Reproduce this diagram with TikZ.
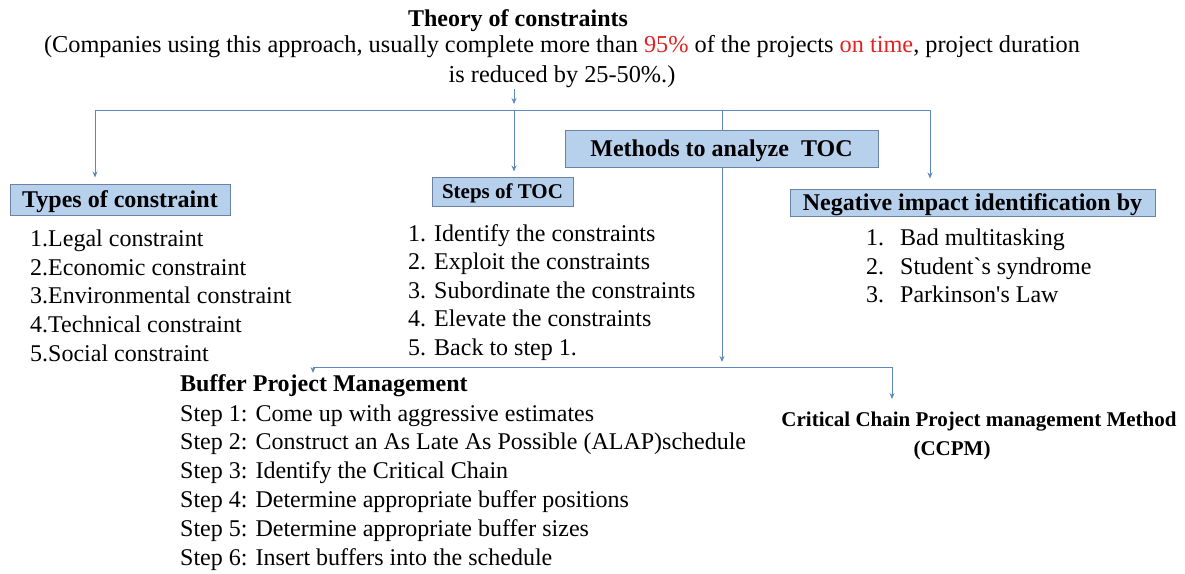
\documentclass[tikz,border=0pt]{standalone}
\usepackage{fontspec}
\setmainfont{Liberation Serif}
\usetikzlibrary{arrows.meta}
\definecolor{boxfill}{RGB}{183,208,236}
\definecolor{boxline}{RGB}{105,130,165}
\definecolor{linkc}{RGB}{95,135,190}
\definecolor{redt}{RGB}{225,35,35}
\begin{document}
\begin{tikzpicture}[x=1pt,y=-1pt,
  txt/.style={inner sep=0pt, anchor=west, font=\fontsize{24}{28}\selectfont, text height=16pt, text depth=0pt},
  ctxt/.style={txt, anchor=center},
  btxt/.style={txt, font=\fontsize{24}{28}\selectfont\bfseries},
  hbox/.style={draw=boxline, fill=boxfill, line width=1pt, inner sep=0pt, text height=16pt, text depth=0pt,
    font=\fontsize{24}{28}\selectfont\bfseries},
  link/.style={draw=linkc, line width=1pt},
  arr/.style={link, -{Stealth[length=6pt,width=5pt]}}]
\useasboundingbox (0,0) rectangle (1185,573);
% title
\node[ctxt, font=\fontsize{24}{28}\selectfont\bfseries] (title) at (518,18) {Theory of constraints};
\node[ctxt, font=\fontsize{24.3}{28}\selectfont] (l2) at (562,44) {(Companies using this approach, usually complete more than \textcolor{redt}{95\%} of the projects \textcolor{redt}{on time}, project duration};
\node[ctxt, font=\fontsize{24.3}{28}\selectfont] (l3) at (562,74) {is reduced by 25-50\%.)};
% boxes
\node[hbox, minimum width=220pt, minimum height=31pt] (types) at (120,199.5) {Types of constraint};
\node[hbox, minimum width=141pt, minimum height=29pt, font=\fontsize{21}{25}\selectfont\bfseries, text height=14pt] (steps) at (502.5,191.5) {Steps of TOC};
\node[hbox, minimum width=313pt, minimum height=37pt] (methods) at (721.5,148.5) {Methods to analyze\ \ TOC};
\node[hbox, minimum width=365pt, minimum height=27pt] (neg) at (972.5,202.5) {Negative impact identification by};
% connectors
\coordinate (t0) at (514,89);
\coordinate (t1) at (514,104);
\coordinate (hL) at (95,110);
\coordinate (hS) at (514,110);
\coordinate (hM) at (722,110);
\coordinate (hR) at (930,110);
\coordinate (mE) at (722,362);
\coordinate (bL) at (313,367);
\coordinate (bM) at (722,367);
\coordinate (bR) at (892,367);
\coordinate (bLe) at (313,373);
\coordinate (bRe) at (892,399);
\draw[arr] (t0) -- (t1);
\draw[link] (hL) -- (hR);
\draw[arr, shorten >=6pt] (hL) -- (hL |- types.north);
\draw[arr, shorten >=5pt] (hS) -- (hS |- steps.north);
\draw[arr, shorten >=10pt] (hR) -- (hR |- neg.north);
\draw[link] (hM) -- (hM |- methods.north);
\draw[arr] (hM |- methods.south) -- (mE);
\draw[link] (bL) -- (bR);
\draw[arr] (bL) -- (bLe);
\draw[arr] (bR) -- (bRe);
% types list
\node[txt] (ty1) at (30,238) {1.Legal constraint};
\node[txt] (ty2) at (30,267) {2.Economic constraint};
\node[txt] (ty3) at (30,295) {3.Environmental constraint};
\node[txt] (ty4) at (30,324) {4.Technical constraint};
\node[txt] (ty5) at (30,353) {5.Social constraint};
% steps list
\node[txt] (st1) at (408,233) {1. Identify the constraints};
\node[txt] (st2) at (408,261) {2. Exploit the constraints};
\node[txt] (st3) at (408,290) {3. Subordinate the constraints};
\node[txt] (st4) at (408,318) {4. Elevate the constraints};
\node[txt] (st5) at (408,347) {5. Back to step 1.};
% negative list
\node[txt] (ng1n) at (866,237) {1.};
\node[txt] (ng1) at (900,237) {Bad multitasking};
\node[txt] (ng2n) at (866,266) {2.};
\node[txt] (ng2) at (900,266) {Student\textasciigrave s syndrome};
\node[txt] (ng3n) at (866,294) {3.};
\node[txt] (ng3) at (900,294) {Parkinson\textquotesingle s Law};
% buffer
\node[btxt] (bpm) at (180,383) {Buffer Project Management};
\node[txt] (bp1) at (180,413) {Step 1: Come up with aggressive estimates};
\node[txt] (bp2) at (180,441) {Step 2: Construct an As Late As Possible (ALAP)schedule};
\node[txt] (bp3) at (180,470) {Step 3: Identify the Critical Chain};
\node[txt] (bp4) at (180,499) {Step 4: Determine appropriate buffer positions};
\node[txt] (bp5) at (180,528) {Step 5: Determine appropriate buffer sizes};
\node[txt] (bp6) at (180,557) {Step 6: Insert buffers into the schedule};
% ccpm
\node[ctxt, font=\fontsize{21}{25}\selectfont\bfseries] (cc1) at (979,418) {Critical Chain Project management Method};
\node[ctxt, font=\fontsize{21}{25}\selectfont\bfseries] (cc2) at (952,447) {(CCPM)};
\end{tikzpicture}
\end{document}
